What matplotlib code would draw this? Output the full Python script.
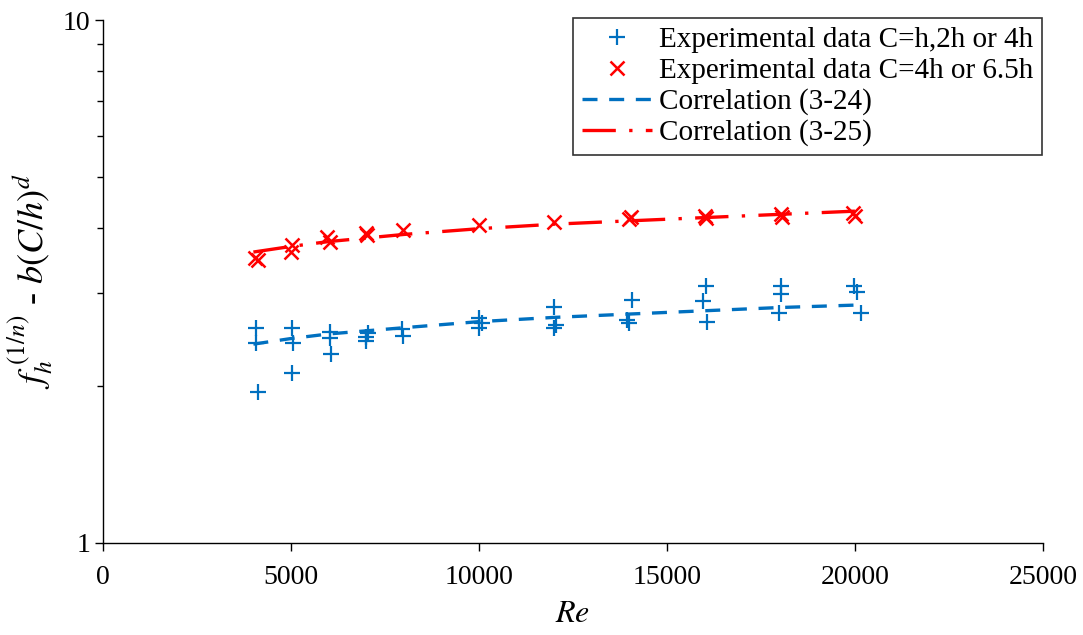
import matplotlib
matplotlib.use("Agg")
import matplotlib.pyplot as plt
from matplotlib.ticker import LogLocator, NullFormatter, FixedLocator, FixedFormatter

plt.rcParams['font.family'] = ['Liberation Serif', 'DejaVu Serif']
plt.rcParams['mathtext.fontset'] = 'stix'

# Experimental data C=h,2h or 4h
blue_re = [4070, 4070, 4120,
           5030, 5050, 5030,
           6040, 6040, 6060,
           7040, 7000, 7000,
           7950, 7990,
           10000, 10080, 10000,
           12000, 12040, 12000,
           14070, 13950, 13990,
           16030, 15970, 16070,
           18030, 18030, 17970,
           19980, 20050, 20150]
blue_val = [2.577, 2.412, 1.944,
            2.577, 2.412, 2.114,
            2.532, 2.466, 2.298,
            2.521, 2.477, 2.434,
            2.560, 2.493,
            2.693, 2.634, 2.577,
            2.827, 2.611, 2.577,
            2.915, 2.669, 2.629,
            3.100, 2.906, 2.650,
            3.100, 2.993, 2.757,
            3.107, 3.023, 2.750]

# Experimental data C=4h or 6.5h
red_re = [4030, 4120, 5030, 4990, 5970, 6040, 7000, 7030, 7990, 10000,
          12000, 13990, 14040, 16000, 16030, 18030, 18070, 19960, 20000]
red_val = [3.503, 3.476, 3.713, 3.606, 3.852, 3.768, 3.910, 3.881, 3.967, 4.055,
           4.115, 4.159, 4.196, 4.220, 4.177, 4.257, 4.207, 4.270, 4.220]

# Correlation curves
corr_re = [4000, 5000, 6000, 8000, 10000, 12000, 14000, 16000, 18000, 20000]
corr24 = [2.40, 2.46, 2.51, 2.58, 2.65, 2.70, 2.74, 2.78, 2.82, 2.85]
corr25 = [3.60, 3.69, 3.77, 3.89, 3.99, 4.07, 4.13, 4.19, 4.25, 4.31]

labels = ['Experimental data C=h,2h or 4h', 'Experimental data C=4h or 6.5h',
          'Correlation (3-24)', 'Correlation (3-25)']

blue = '#0070C0'
red = '#FF0000'

fig = plt.figure(figsize=(10.83, 6.35), dpi=100)
ax = fig.add_axes([0.0951, 0.1449, 0.8679, 0.8236])

ax.plot(blue_re, blue_val, linestyle='none', marker='+', ms=11, mew=1.6,
        color=blue, label=labels[0])
ax.plot(red_re, red_val, linestyle='none', marker='x', ms=10, mew=1.8,
        color=red, label=labels[1])
l1, = ax.plot(corr_re, corr24, color=blue, lw=2.4, label=labels[2])
l1.set_dashes((4.5, 3.5))
l2, = ax.plot(corr_re, corr25, color=red, lw=2.4, label=labels[3])
l2.set_dashes((10, 4, 1, 4))

ax.set_yscale('log')
ax.set_ylim(1, 10)
ax.set_xlim(0, 25000)
ax.xaxis.set_major_locator(FixedLocator([0, 5000, 10000, 15000, 20000, 25000]))
ax.yaxis.set_major_locator(FixedLocator([1, 10]))
ax.yaxis.set_major_formatter(FixedFormatter(['1', '10']))
ax.yaxis.set_minor_locator(LogLocator(base=10, subs=range(2, 10)))
ax.yaxis.set_minor_formatter(NullFormatter())

for s in ['top', 'right']:
    ax.spines[s].set_visible(False)
for s in ['left', 'bottom']:
    ax.spines[s].set_linewidth(1.0)

ax.tick_params(axis='both', which='major', direction='out', length=6, width=1,
               labelsize=20)
ax.tick_params(axis='x', which='major', pad=10)
ax.tick_params(axis='y', which='major', pad=3)
ax.tick_params(axis='y', which='minor', direction='out', length=4, width=1)

ax.set_xlabel('$Re$', fontsize=23, labelpad=7)
ax.set_ylabel(r'$f_h^{\;(1/n)}$' + ' - ' + r'$b(C/h)^d$', fontsize=26, labelpad=6)

leg = ax.legend(loc='upper right', bbox_to_anchor=(0.999, 1.004), fontsize=21,
                frameon=True, fancybox=False, edgecolor='black',
                handlelength=2.4, handletextpad=0.25, borderpad=0.3,
                labelspacing=0.15, borderaxespad=0.0)
leg.get_frame().set_linewidth(1.2)

fig.savefig('out.png', dpi=100, facecolor='white')
